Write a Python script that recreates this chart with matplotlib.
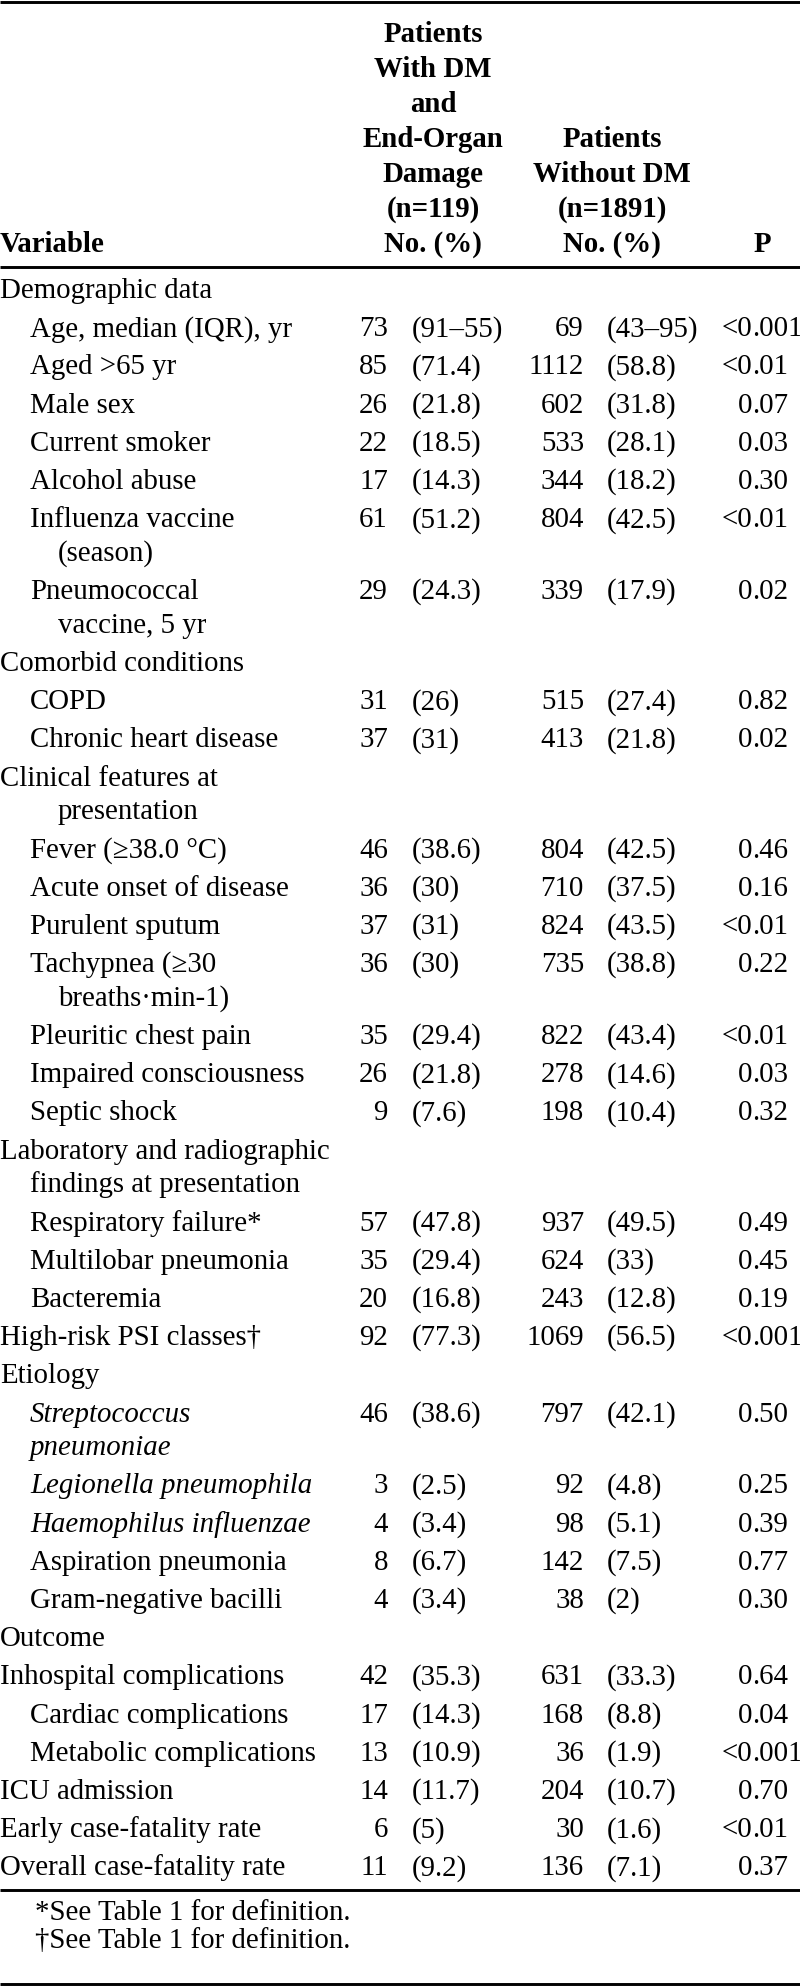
import matplotlib
matplotlib.use('Agg')
import matplotlib.pyplot as plt

plt.rcParams['font.family'] = ['Liberation Serif', 'DejaVu Serif']

# ---- table content ----
head_dm = ['Patients', 'With DM', 'and', 'End-Organ', 'Damage', '(n=119)', 'No. (%)']
head_nodm = ['Patients', 'Without DM', '(n=1891)', 'No. (%)']
head_var = 'Variable'
head_p = 'P'

labels = ['Demographic data',
          'Age, median (IQR), yr', 'Aged >65 yr', 'Male sex', 'Current smoker', 'Alcohol abuse',
          'Influenza vaccine\n(season)', 'Pneumococcal\nvaccine, 5 yr',
          'Comorbid conditions',
          'COPD', 'Chronic heart disease',
          'Clinical features at\npresentation',
          'Fever (≥38.0 °C)', 'Acute onset of disease', 'Purulent sputum',
          'Tachypnea (≥30\nbreaths·min-1)', 'Pleuritic chest pain',
          'Impaired consciousness', 'Septic shock',
          'Laboratory and radiographic\nfindings at presentation',
          'Respiratory failure*', 'Multilobar pneumonia', 'Bacteremia',
          'High-risk PSI classes†',
          'Etiology',
          'Streptococcus\npneumoniae', 'Legionella pneumophila', 'Haemophilus influenzae',
          'Aspiration pneumonia', 'Gram-negative bacilli',
          'Outcome',
          'Inhospital complications', 'Cardiac complications', 'Metabolic complications',
          'ICU admission', 'Early case-fatality rate', 'Overall case-fatality rate']
levels = [0, 1, 1, 1, 1, 1, 1, 1, 0, 1, 1, 0, 1, 1, 1, 1, 1, 1, 1, 0, 1, 1, 1, 0,
          0, 1, 1, 1, 1, 1, 0, 0, 1, 1, 0, 0, 0]
italic = ['Streptococcus\npneumoniae', 'Legionella pneumophila', 'Haemophilus influenzae']

n_dm = [None, '73', '85', '26', '22', '17', '61', '29', None, '31', '37', None,
        '46', '36', '37', '36', '35', '26', '9', None, '57', '35', '20', '92', None,
        '46', '3', '4', '8', '4', None, '42', '17', '13', '14', '6', '11']
pct_dm = [None, '(91–55)', '(71.4)', '(21.8)', '(18.5)', '(14.3)', '(51.2)', '(24.3)', None,
          '(26)', '(31)', None, '(38.6)', '(30)', '(31)', '(30)', '(29.4)', '(21.8)', '(7.6)',
          None, '(47.8)', '(29.4)', '(16.8)', '(77.3)', None, '(38.6)', '(2.5)', '(3.4)',
          '(6.7)', '(3.4)', None, '(35.3)', '(14.3)', '(10.9)', '(11.7)', '(5)', '(9.2)']
n_nodm = [None, '69', '1112', '602', '533', '344', '804', '339', None, '515', '413', None,
          '804', '710', '824', '735', '822', '278', '198', None, '937', '624', '243', '1069',
          None, '797', '92', '98', '142', '38', None, '631', '168', '36', '204', '30', '136']
pct_nodm = [None, '(43–95)', '(58.8)', '(31.8)', '(28.1)', '(18.2)', '(42.5)', '(17.9)', None,
            '(27.4)', '(21.8)', None, '(42.5)', '(37.5)', '(43.5)', '(38.8)', '(43.4)', '(14.6)',
            '(10.4)', None, '(49.5)', '(33)', '(12.8)', '(56.5)', None, '(42.1)', '(4.8)',
            '(5.1)', '(7.5)', '(2)', None, '(33.3)', '(8.8)', '(1.9)', '(10.7)', '(1.6)', '(7.1)']
p_vals = [None, '<0.001', '<0.01', '0.07', '0.03', '0.30', '<0.01', '0.02', None,
          '0.82', '0.02', None, '0.46', '0.16', '<0.01', '0.22', '<0.01', '0.03', '0.32',
          None, '0.49', '0.45', '0.19', '<0.001', None, '0.50', '0.25', '0.39', '0.77',
          '0.30', None, '0.64', '0.04', '<0.001', '0.70', '<0.01', '0.37']

footnotes = ['*See Table 1 for definition.', '†See Table 1 for definition.']

# ---- layout (pixels) ----
W, H = 800, 1986
fs = 20.8
x_indent = [0, 30]
hang = {'Clinical features at\npresentation': 58,
        'Laboratory and radiographic\nfindings at presentation': 30,
        'Streptococcus\npneumoniae': 30}
x_n1, x_p1, x_n2, x_p2, x_dot = 388, 412, 584, 607, 752
row_step, line_step = 38.2, 33.7

fig = plt.figure(figsize=(W / 100, H / 100), dpi=100)
ax = fig.add_axes([0, 0, 1, 1])
ax.set_xlim(0, W)
ax.set_ylim(H, 0)
ax.axis('off')

for y in [1.5, 267, 1890, 1983.5]:
    ax.plot([0, W], [y, y], color='black', lw=2.1, solid_capstyle='butt')

# header (baselines)
bold = dict(fontsize=fs, fontweight='bold', va='baseline')
for i, t in enumerate(head_dm):
    ax.text(433, 42 + 35 * i, t, ha='center', **bold)
for i, t in enumerate(head_nodm):
    ax.text(612, 42 + 35 * (i + 3), t, ha='center', **bold)
ax.text(0, 252, head_var, ha='left', **bold)
ax.text(762, 252, head_p, ha='center', **bold)

# body (baselines)
y = 298
for i, lab in enumerate(labels):
    lines = lab.split('\n')
    x0 = x_indent[levels[i]]
    style = 'italic' if lab in italic else 'normal'
    for k, ln in enumerate(lines):
        xk = x0 if k == 0 else hang.get(lab, 58)
        ax.text(xk, y + k * line_step, ln, fontsize=fs, style=style,
                ha='left', va='baseline')
    if n_dm[i] is not None:
        ax.text(x_n1, y, n_dm[i], fontsize=fs, ha='right', va='baseline')
        ax.text(x_p1, y, pct_dm[i], fontsize=fs, ha='left', va='baseline')
        ax.text(x_n2, y, n_nodm[i], fontsize=fs, ha='right', va='baseline')
        ax.text(x_p2, y, pct_nodm[i], fontsize=fs, ha='left', va='baseline')
        whole, frac = p_vals[i].split('.')
        ax.text(x_dot, y, whole, fontsize=fs, ha='right', va='baseline')
        ax.text(x_dot, y, '.' + frac, fontsize=fs, ha='left', va='baseline')
    y += row_step + line_step * (len(lines) - 1)

for k, t in enumerate(footnotes):
    ax.text(35, 1920 + 28 * k, t, fontsize=fs, ha='left', va='baseline')

fig.savefig('out.png', dpi=100, facecolor='white')
